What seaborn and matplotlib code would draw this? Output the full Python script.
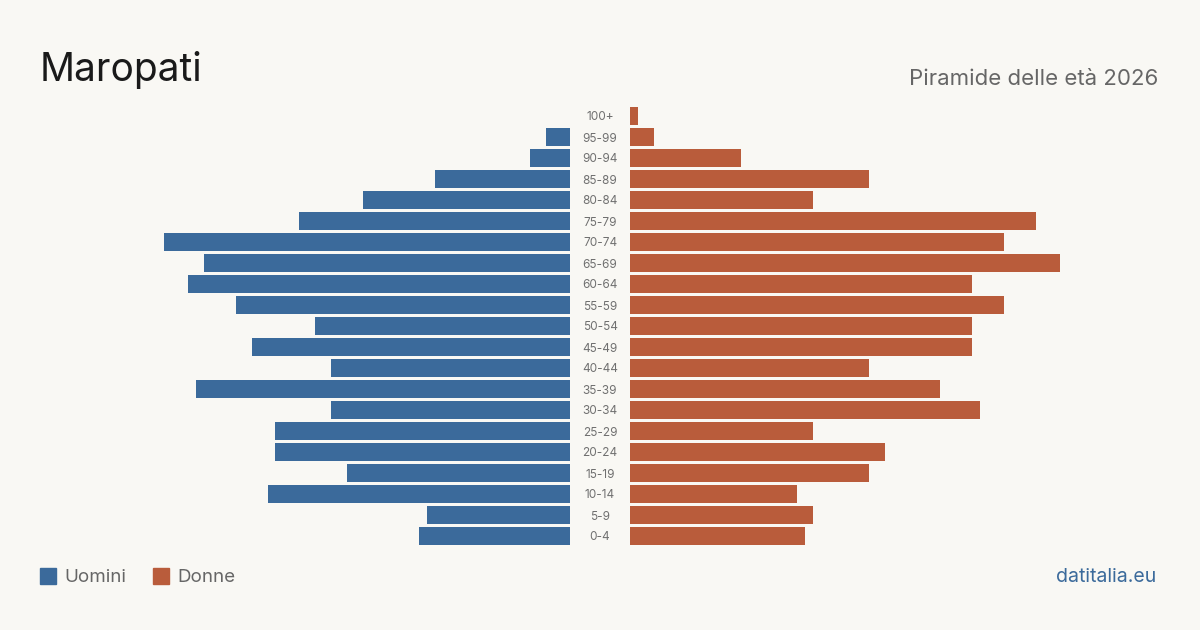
import numpy as np
import pandas as pd
import matplotlib
matplotlib.use("Agg")
import matplotlib.pyplot as plt
import seaborn as sns

# Age classes, top of the pyramid first
age_groups = ['100+', '95-99', '90-94', '85-89', '80-84', '75-79', '70-74',
              '65-69', '60-64', '55-59', '50-54', '45-49', '40-44', '35-39',
              '30-34', '25-29', '20-24', '15-19', '10-14', '5-9', '0-4']
men = [0, 3, 5, 17, 26, 34, 51, 46, 48, 42, 32, 40, 30, 47, 30, 37, 37, 28, 38, 18, 19]
women = [1, 3, 14, 30, 23, 51, 47, 54, 43, 47, 43, 43, 30, 39, 44, 23, 32, 30, 21, 23, 22]

title = 'Maropati'
subtitle = 'Piramide delle età 2026'
source = 'datitalia.eu'

BG = '#f9f8f4'
BLUE = '#3b6a9b'
RED = '#b95c3b'
GREY = '#666666'

sns.set_theme(style='white')
plt.rcParams['font.family'] = ['Inter', 'DejaVu Sans']

df = pd.DataFrame({'age': age_groups, 'men': men, 'women': women})

W, H = 1200, 630
fig = plt.figure(figsize=(W / 100, H / 100), dpi=100, facecolor=BG)

# both halves share the same scale (units per pixel)
px_per_unit = 7.96
top, bottom = 105.5, 546.5
half_w = 530
xmax = half_w / px_per_unit

ax_l = fig.add_axes([(570 - half_w) / W, 1 - bottom / H, half_w / W, (bottom - top) / H])
ax_r = fig.add_axes([630 / W, 1 - bottom / H, half_w / W, (bottom - top) / H])

sns.barplot(data=df, y='age', x='men', order=age_groups, color=BLUE,
            saturation=1, width=0.81, linewidth=0, ax=ax_l)
sns.barplot(data=df, y='age', x='women', order=age_groups, color=RED,
            saturation=1, width=0.81, linewidth=0, ax=ax_r)

ax_l.set_xlim(xmax, 0)
ax_r.set_xlim(0, xmax)
for ax in (ax_l, ax_r):
    ax.set_ylim(len(age_groups) - 0.5, -0.5)
    ax.set_facecolor('none')
    ax.set_xlabel('')
    ax.set_ylabel('')
    ax.set_xticks([])
    ax.set_yticks([])
    sns.despine(ax=ax, left=True, bottom=True)

# age labels in the gap between the two halves
for i, lab in enumerate(age_groups):
    y = 1 - (117.5 + i * 21) / H
    fig.text(600 / W, y, lab, ha='center', va='center', fontsize=8.5, color='#707070')

fig.text(40 / W, 1 - 81 / H, title, fontsize=28, color='#1a1a1a', ha='left', va='baseline')
fig.text(1158 / W, 1 - 85 / H, subtitle, fontsize=16, color=GREY, ha='right', va='baseline')

# legend
for x0, col, lab in [(40, BLUE, 'Uomini'), (153, RED, 'Donne')]:
    fig.patches.append(plt.Rectangle((x0 / W, 1 - 584 / H), 16 / W, 16 / H,
                                     transform=fig.transFigure, color=col, figure=fig))
    fig.text((x0 + 24) / W, 1 - 577.5 / H, lab, fontsize=13.5, color=GREY,
             ha='left', va='center')

fig.text(1156 / W, 1 - 577.5 / H, source, fontsize=14, color=BLUE, ha='right', va='center')

fig.savefig('out.png', dpi=100, facecolor=BG)
